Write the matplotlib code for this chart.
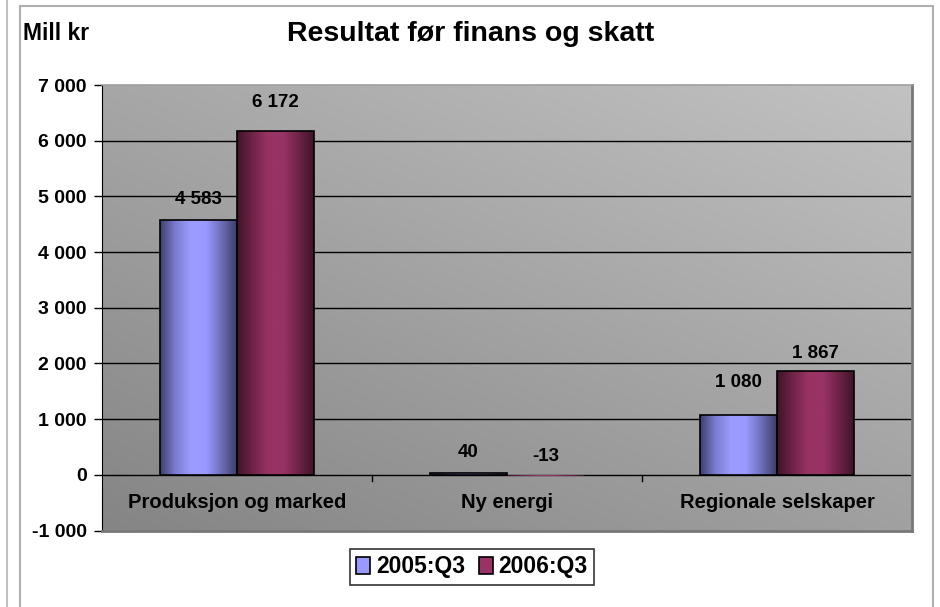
import numpy as np
import matplotlib.pyplot as plt
from matplotlib.colors import LinearSegmentedColormap
from matplotlib.lines import Line2D
from matplotlib.patches import Rectangle

plt.rcParams['font.family'] = ['Liberation Sans', 'DejaVu Sans']
plt.rcParams['font.weight'] = 'bold'

categories = ['Produksjon og marked', 'Ny energi', 'Regionale selskaper']
series_names = ['2005:Q3', '2006:Q3']
q3_2005 = [4583, 40, 1080]
q3_2006 = [6172, -13, 1867]
yticks = [-1000, 0, 1000, 2000, 3000, 4000, 5000, 6000, 7000]

# label offsets above bar top, pixels
offs_2005 = [20, 20, 32]
offs_2006 = [29, 18, 17]

colours = ['#9999ff', '#993366']
cmaps = [
    LinearSegmentedColormap.from_list('b', ['#3f3f6e', '#7b7bd0', '#9c9cff', '#9999ff', '#6e6eb8', '#3d3d6a']),
    LinearSegmentedColormap.from_list('r', ['#3f1428', '#6e2448', '#973363', '#993366', '#6e2448', '#3f1428']),
]

fig = plt.figure(figsize=(9.4, 6.07), dpi=100)
W, H = 940, 607

# outer frame lines
fig.add_artist(Line2D([7 / W, 7 / W], [0, 1], color='#c0c0c0', lw=1.5))
fig.add_artist(Rectangle((19.5 / W, -0.01), (933 - 19.5) / W, 1 - 6 / H + 0.01,
                         transform=fig.transFigure, fill=False, edgecolor='#b0b0b0', lw=1.5))

ax = fig.add_axes([102 / W, 1 - 530.5 / H, (912 - 102) / W, (530.5 - 85) / H])

# gray diagonal gradient background
gx, gy = np.meshgrid(np.linspace(0, 1, 200), np.linspace(0, 1, 200))
grad = (gx * 0.45 + gy * 0.55)
bg = LinearSegmentedColormap.from_list('g', ['#858585', '#c2c2c2'])
ax.imshow(grad, cmap=bg, extent=[0, 1, 0, 1], transform=ax.transAxes,
          origin='lower', aspect='auto', zorder=0)

x = np.arange(len(categories))
w = 0.285
ax.set_xlim(-0.5, 2.5)
ax.set_ylim(-1000, 7000)

for v in yticks[1:-1]:
    ax.axhline(v, color='black', lw=1, zorder=1)

hgrad = np.linspace(0, 1, 256).reshape(1, -1)
for k, (vals, offs) in enumerate([(q3_2005, offs_2005), (q3_2006, offs_2006)]):
    pos = x + (k - 0.5) * w
    bars = ax.bar(pos, vals, w, color=colours[k], edgecolor='black', lw=1.2,
                  label=series_names[k], zorder=3)
    for b, v, o in zip(bars, vals, offs):
        x0 = b.get_x()
        im = ax.imshow(hgrad, cmap=cmaps[k], aspect='auto', zorder=2.5,
                       extent=[x0, x0 + b.get_width(), min(0, v), max(0, v)])
        im.set_clip_path(b)
        b.set_facecolor('none')
        if abs(v) < 20:
            b.set_edgecolor('none')
        ax.annotate(f'{v:,}'.replace(',', ' '), (x0 + b.get_width() / 2, max(v, 0)),
                    xytext=(0, o), textcoords='offset pixels', ha='center', va='center',
                    fontsize=13.5, fontweight='bold', zorder=5)

# category labels inside plot area
for i, c in enumerate(categories):
    ax.text(i, -500, c, ha='center', va='center', fontsize=14.5, fontweight='bold')
for b in [0.5, 1.5]:
    ax.plot([b, b], [0, -110], color='black', lw=1, zorder=4)

ax.set_xticks([])
ax.set_yticks(yticks)
ax.set_yticklabels([f'{v:,}'.replace(',', ' ') for v in yticks], fontsize=14, fontweight='bold')
ax.tick_params(axis='y', length=6, width=1, pad=5)

ax.spines['left'].set_color('black')
ax.spines['top'].set_color('#a0a0a0')
ax.spines['right'].set_color('#787878')
ax.spines['bottom'].set_color('#787878')
ax.spines['right'].set_linewidth(2)
ax.spines['bottom'].set_linewidth(2)
ax.spines['top'].set_linewidth(1.2)

fig.text(471 / W, 1 - 34 / H, 'Resultat før finans og skatt', ha='center', va='center',
         fontsize=20.5, fontweight='bold')
fig.text(23 / W, 1 - 33 / H, 'Mill kr', ha='left', va='center', fontsize=16.5, fontweight='bold')

leg = fig.legend(loc='center', bbox_to_anchor=(472 / W, 1 - 567 / H), ncol=2,
                 frameon=True, fancybox=False, edgecolor='black',
                 prop={'weight': 'bold', 'size': 16.5}, handlelength=0.6, handleheight=0.8,
                 handletextpad=0.25, columnspacing=0.6, borderpad=0.3, borderaxespad=0)
leg.get_frame().set_linewidth(1.2)
for h, c in zip(leg.legend_handles, colours):
    h.set_facecolor(c)
    h.set_edgecolor('black')

fig.savefig('out.png', dpi=100)
